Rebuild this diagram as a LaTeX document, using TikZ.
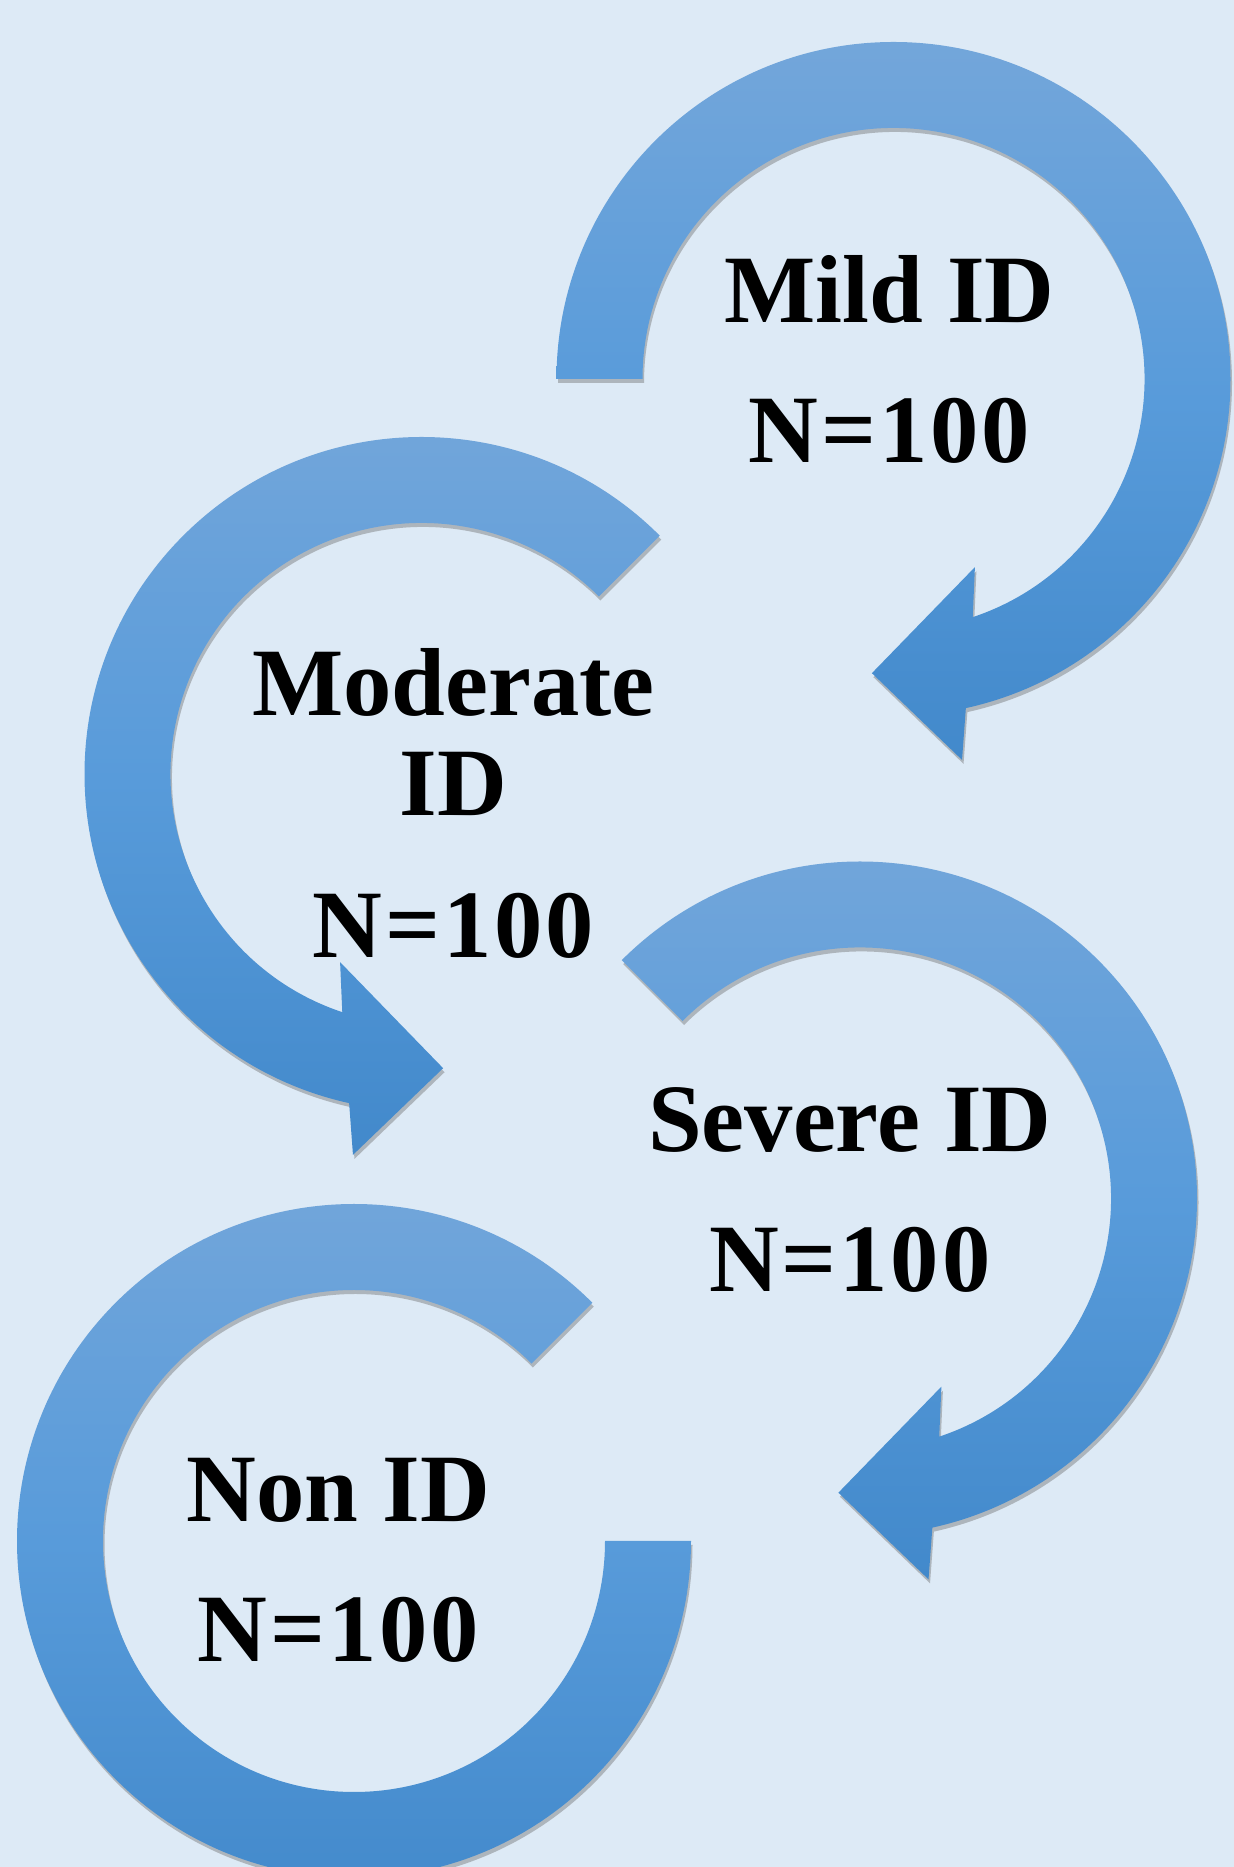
\documentclass[tikz,border=0pt]{standalone}
\usepackage{fontspec}
\setmainfont{Liberation Serif}
\usetikzlibrary{shadows}

\definecolor{bgblue}{RGB}{221,234,246}
\definecolor{arctop}{RGB}{115,166,218}
\definecolor{arcmid}{RGB}{88,155,218}
\definecolor{arcbot}{RGB}{66,137,203}

\begin{document}
\begin{tikzpicture}[
        x=0.02cm, y=0.02cm,
        arcarrow/.style={top color=arctop, bottom color=arcbot, middle color=arcmid,
            drop shadow={opacity=0.4, fill=black!60, shadow xshift=0.03cm, shadow yshift=-0.08cm}},
        idtext/.style={font=\fontsize{55}{60}\selectfont\bfseries, inner sep=0pt, anchor=base},
        idnum/.style={idtext, font=\fontsize{55}{60}\selectfont\bfseries\addfontfeatures{LetterSpace=3}}
    ]
    \useasboundingbox (0,0) rectangle (1234,1867);
    \clip (0,0) rectangle (1234,1867);
    \fill[bgblue] (0,0) rectangle (1234,1867);

    % circular arrows with a head (mild, severe, moderate mirrored)
    \foreach \cx/\cy/\tail/\flip in {893.5/1488/180/1, 860/668.5/135/1, 421.5/1093/135/-1}{
        \begin{scope}[shift={(\cx,\cy)}, xscale=\flip]
            \path[arcarrow] (\tail:337) arc[start angle=\tail, end angle=-77.6, radius=337]
                -- (-79.8:387) -- (-94.2:295) -- (-66.6:205) -- (-71.6:251)
                arc[start angle=-71.6, end angle=\tail, radius=251] -- cycle;
        \end{scope}
    }
    % open ring, no head (non ID)
    \path[arcarrow] (354,326) ++(45:337) arc[start angle=45, end angle=360, radius=337]
        -- ++(-86,0) arc[start angle=360, end angle=45, radius=251] -- cycle;

    \node[idtext] (mild) at (889.5,1544) {Mild ID};
    \node[idnum] (mildn) at ([yshift=-2.8cm]mild.base) {N=100};

    \node[idtext] (moderate) at (453.5,1151) {Moderate};
    \node[idtext] (moderateid) at ([yshift=-2cm]moderate.base) {ID};
    \node[idnum] (moderaten) at ([yshift=-2.83cm]moderateid.base) {N=100};

    \node[idtext] (severe) at (849.8,715) {Severe ID};
    \node[idnum] (severen) at ([yshift=-2.8cm]severe.base) {N=100};

    \node[idtext] (non) at (338.5,345) {Non ID};
    \node[idnum] (nonn) at ([yshift=-2.8cm]non.base) {N=100};
\end{tikzpicture}
\end{document}
